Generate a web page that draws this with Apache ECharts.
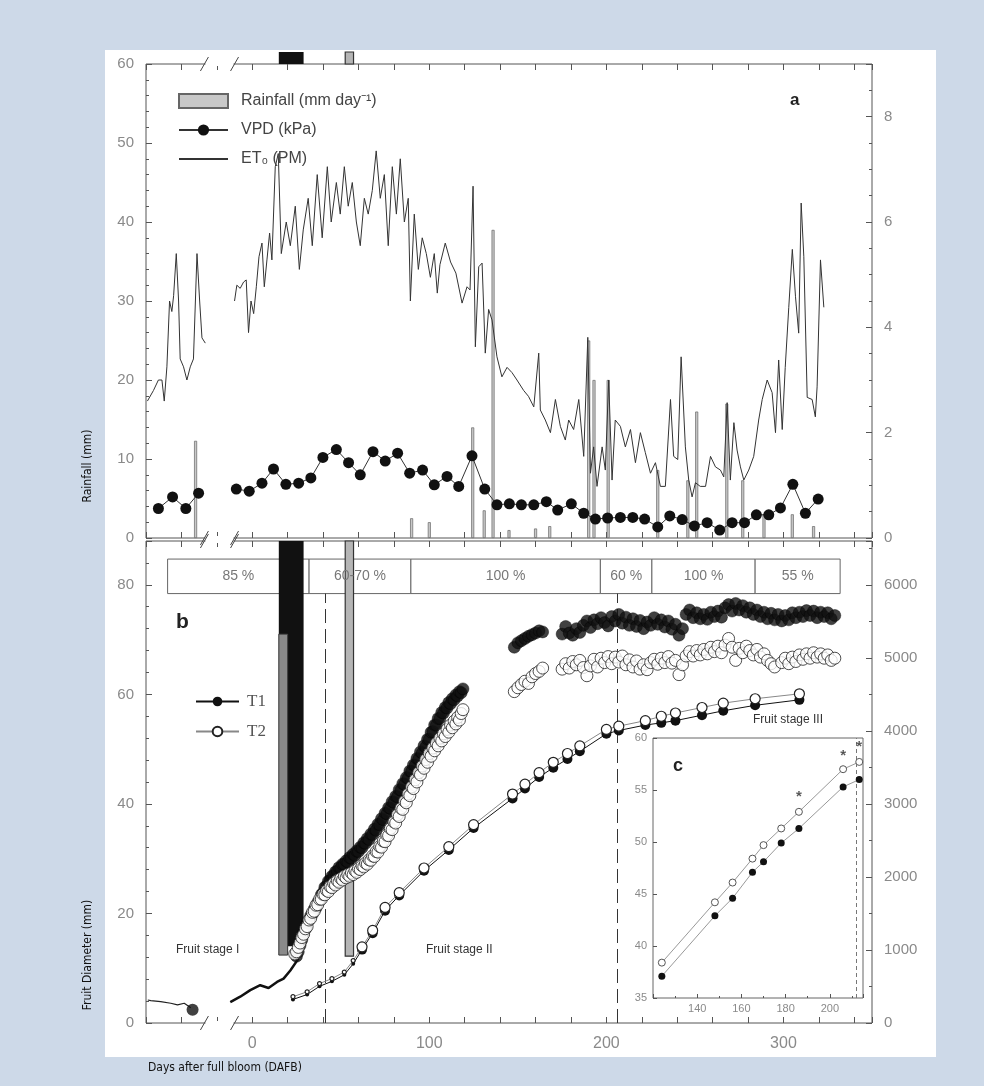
<!DOCTYPE html>
<html><head><meta charset="utf-8">
<script src="https://cdn.jsdelivr.net/npm/echarts@6/dist/echarts.min.js"></script>
<style>
html,body{margin:0;padding:0;background:#cdd9e8;}
#panel{position:absolute;left:105px;top:50px;width:831px;height:1007px;background:#fff;}
#chart{position:absolute;left:0;top:0;width:984px;height:1086px;}
</style></head><body>
<div id="panel"></div><div id="chart"></div>
<script>
// ---------- DATA ----------
// Panel a: daily rainfall (mm), days after full bloom (left segment = pre-bloom, broken axis)
const rainDays = [-32, 90, 100, 124.5, 131, 136, 145, 160, 168, 190, 193, 201, 229, 246, 251, 268, 277, 289, 305, 317];
const rainMM   = [12.3, 2.5, 2, 14, 3.5, 39, 1, 1.2, 1.5, 25, 20, 20, 8.6, 7.3, 16, 17, 7.3, 3, 3, 1.5];
// VPD (kPa)
const vpd = [[-53,0.56],[-45,0.78],[-37.5,0.56],[-30.3,0.85],[-20,null],[-9,0.93],[-1.7,0.89],[5.5,1.04],[12,1.31],[19,1.02],[26.2,1.04],[33.1,1.14],[39.9,1.53],[47.5,1.68],[54.4,1.43],[61,1.2],[68.2,1.64],[75.1,1.46],[82.1,1.61],[88.9,1.23],[96.2,1.29],[102.8,1.01],[110,1.17],[116.6,0.98],[124.1,1.56],[131.3,0.93],[138.2,0.63],[145.2,0.65],[152,0.63],[159,0.63],[166.1,0.69],[172.5,0.53],[180.2,0.65],[187.2,0.47],[193.8,0.36],[200.7,0.38],[207.9,0.39],[214.9,0.39],[221.6,0.36],[229,0.21],[235.8,0.42],[242.8,0.35],[249.7,0.23],[256.9,0.29],[264,0.15],[271,0.29],[278,0.29],[284.7,0.44],[291.7,0.44],[298.3,0.57],[305.3,1.02],[312.4,0.47],[319.6,0.74]];
// ET0 Penman-Monteith (mm/day)
const et0 = [[-59.2,2.6],[-55.8,2.8],[-53,3.0],[-51,3.0],[-49.7,2.6],[-48.2,3.25],[-46.7,4.5],[-45.4,4.3],[-44.4,4.6],[-42.9,5.4],[-41.6,4.5],[-40.7,3.4],[-38.8,3.25],[-36.9,3.0],[-35,3.25],[-33.2,3.4],[-31.2,5.4],[-29.7,4.5],[-28.4,3.8],[-26.5,3.7],[-18,null],
[-10,4.5],[-8.7,4.8],[-6.8,4.74],[-4.9,4.86],[-3.4,4.9],[-2.1,3.9],[-0.7,4.5],[0.8,4.26],[2.3,4.77],[3.8,5.34],[5.5,5.6],[6.8,4.77],[8.3,5.28],[9.8,5.79],[11.1,5.28],[13,7.05],[14.7,7.3],[16.4,5.4],[19.2,6.0],[21.5,5.55],[24.3,6.3],[26.6,5.1],[28.8,5.85],[31.6,6.45],[33.9,5.55],[36.7,6.9],[39.5,5.7],[42.4,7.05],[44.6,6.0],[47.5,6.75],[49.7,6.15],[52,7.05],[54.2,6.3],[56.5,6.75],[58.8,6.0],[61,5.55],[63.3,6.45],[65.5,6.15],[67.8,6.6],[70,7.35],[72.3,6.45],[74.6,6.9],[76.8,5.55],[79.1,7.05],[81.4,6.15],[83.6,7.2],[85.9,6.0],[88.1,6.45],[89.3,4.5],[91.5,6.15],[93.8,5.1],[96,5.7],[98.3,5.4],[100.6,4.95],[102.8,5.4],[104.5,4.65],[106,5.19],
[109,5.6],[112,5.24],[115,5.03],[118.5,4.46],[121.3,4.77],[123,4.71],[124.7,6.68],[126,3.63],[127.9,5.15],[129.8,5.22],[131.6,3.51],[133.5,4.34],[135.4,4.14],[138.2,3.44],[141,3.06],[143.9,3.24],[146.7,3.14],[149.5,3.0],[153.3,2.8],[156,2.69],[159,2.49],[161.8,3.51],[162.7,2.43],[165.5,2.24],[168.4,2.0],[171.2,2.63],[174,2.12],[176.8,1.86],[178.7,2.24],[181.5,2.06],[184.4,2.63],[187.2,1.55],[189.5,3.81],[191,1.23],[192.8,1.73],[194.7,0.98],[197.6,1.73],[199.4,1.29],[201.3,3.0],[203.2,1.1],[205,2.24],[207.9,2.12],[210.7,1.73],[213.6,2.06],[216.4,1.43],[219.2,2.0],[222,1.62],[224.9,1.23],[227.7,1.43],[230.5,0.98],[233.3,0.98],[236.2,2.63],[238,1.55],[240.3,1.49],[242.2,3.44],[244.6,1.73],[246.5,1.1],[248.4,0.78],[250.3,1.05],[253,0.98],[256,0.98],[258.8,1.55],[261.6,1.35],[264.4,1.29],[266.3,1.16],[268.2,2.57],[270,1.1],[272,2.19],[273.8,1.67],[275.7,1.35],[277.6,1.1],[280.4,1.29],[283.2,1.55],[286,2.24],[288,2.63],[290.8,3.0],[293.6,2.76],[295.5,2.0],[297.3,3.38],[299.3,2.06],[301,3.24],[303,4.38],[305,5.48],[306.8,4.58],[308.6,3.89],[310,6.36],[311.5,5.34],[313.4,2.67],[316.2,2.63],[318,2.3],[319,2.87],[320.9,5.28],[322.8,4.38]];

// Panel b: heavy rain / irrigation bands (days)
const heavyRainStart = [15, 52.5];
const heavyRainEnd   = [29, 57.2];
// Irrigation table
const tableStart  = [-47.8, 32.1, 89.6, 196.6, 225.7, 284];
const tableEnd    = [32.1, 89.6, 196.6, 225.7, 284, 332];
const tableLabels = ['85 %', '60-70 %', '100 %', '60 %', '100 %', '55 %'];
// Stage boundaries (dashed lines)
const stageLines = [41, 206];

// Fruit diameter, pre-bloom segment
const preSeason = [[-59,4.2],[-57.3,4.1],[-51.7,3.9],[-46,3.6],[-42.2,3.3],[-38.4,3.6],[-34.7,2.8]];
const preSeasonDot = [[-33.7,2.4]];
const t1Early = [[-12.4,3.8],[-6.8,4.8],[-1.1,6.0],[4.5,6.9],[9.2,6.4],[14,7.5],[17.7,8.1],[21.5,9.6],[26.2,11.8]];
// Continuous (daily) T1 diameter
const t1Daily = [[25,12.2],[26,13.0],[27,14.2],[28,15.2],[29,16.4],[30,17.2],[31,18.3],[32,18.8],[33,19.6],[34,19.9],[35,20.8],[36,21.0],[37,22.0],[38,22.3],[39,23.4],[40,23.8],[41,24.8],[42,25.0],[43,25.9],[44,26.0],[45,26.8],[46,26.9],[47,27.6],[48,27.7],[49,28.4],[50,28.3],[51,29.0],[52,29.0],[53,29.6],[54,29.4],[55,30.2],[56,30.1],[57,30.8],[58,30.6],[59,31.4],[60,31.3],[61,32.1],[62,32.0],[63,32.9],[64,32.8],[65,33.7],[66,33.5],[67,34.5],[68,34.4],[69,35.4],[70,35.2],[71,36.3],[72,36.2],[73,37.3],[74,37.1],[75,38.3],[76,38.2],[77,39.3],[78,39.2],[79,40.4],[80,40.3],[81,41.4],[82,41.3],[83,42.6],[84,42.5],[85,43.7],[86,43.6],[87,44.8],[88,44.7],[89,46.0],[90,45.9],[91,47.1],[92,47.0],[93,48.3],[94,48.2],[95,49.5],[96,49.3],[97,50.6],[98,50.4],[99,51.8],[100,51.8],[101,53.1],[102,53.2],[103,54.4],[104,54.4],[105,55.6],[106,55.6],[107,56.7],[108,56.6],[109,57.6],[110,57.5],[111,58.5],[112,58.3],[113,59.2],[114,59.0],[115,59.9],[116,59.7],[117,60.5],[118,60.3],[119,61.0],
[148,68.6],[150,69.4],[152,69.8],[154,70.2],[156,70.6],[158,70.9],[160,71.2],[162,71.6],[164,71.4],
[175,71.0],[177,72.4],[179,71.2],[181,70.8],[183,72.0],[185,71.3],[187,72.6],[189,73.4],[191,72.2],[193,73.6],[195,72.9],[197,74.0],[199,73.1],[201,72.5],[203,74.2],[205,73.4],[207,74.6],[209,73.0],[211,74.1],[213,72.6],[215,73.8],[217,72.4],[219,73.5],[221,72.0],[223,73.2],[225,72.6],[227,74.0],[229,72.8],[231,73.6],[233,72.3],[235,73.4],[237,71.9],[239,72.8],[241,70.8],[243,72.0],[245,74.6],[247,75.4],[249,74.0],[251,74.9],[253,73.8],[255,74.6],[257,73.7],[259,75.0],[261,74.2],[263,75.2],[265,74.1],[267,75.8],[269,76.4],[271,75.2],[273,76.6],[275,75.4],[277,76.2],[279,75.0],[281,75.8],[283,74.6],[285,75.4],[287,74.2],[289,75.0],[291,73.8],[293,74.8],[295,73.6],[297,74.6],[299,73.4],[301,74.4],[303,73.6],[305,74.9],[307,74.0],[309,75.0],[311,74.2],[313,75.3],[315,74.4],[317,75.2],[319,74.0],[321,75.0],[323,74.2],[325,74.9],[327,73.8],[329,74.4]];
// Continuous (daily) T2 diameter
const t2Daily = [[24,12.6],[25,13.0],[26,13.8],[27,14.6],[28,15.6],[29,16.2],[30,17.2],[31,17.6],[32,18.8],[33,19.1],[34,20.2],[35,20.4],[36,21.5],[37,21.6],[38,22.6],[39,22.6],[40,23.5],[41,23.4],[42,24.2],[43,24.0],[44,24.9],[45,24.7],[46,25.5],[47,25.2],[48,26.0],[49,25.7],[50,26.4],[51,26.1],[52,26.8],[53,26.5],[54,27.1],[55,26.8],[56,27.4],[57,27.1],[58,27.8],[59,27.5],[60,28.2],[61,28.0],[62,28.7],[63,28.5],[64,29.2],[65,29.0],[66,29.8],[67,29.7],[68,30.5],[69,30.4],[70,31.3],[71,31.2],[72,32.2],[73,32.1],[74,33.2],[75,33.1],[76,34.3],[77,34.2],[78,35.5],[79,35.3],[80,36.7],[81,36.5],[82,38.0],[83,37.7],[84,39.2],[85,39.0],[86,40.5],[87,40.2],[88,41.8],[89,41.5],[90,43.1],[91,42.8],[92,44.4],[93,44.0],[94,45.7],[95,45.3],[96,46.9],[97,46.5],[98,48.1],[99,47.6],[100,49.2],[101,48.7],[102,50.2],[103,49.7],[104,51.1],[105,50.6],[106,52.0],[107,51.5],[108,52.8],[109,52.3],[110,53.6],[111,53.1],[112,54.4],[113,53.9],[114,55.1],[115,54.6],[116,55.8],[117,55.3],[118,56.5],[119,57.2],
[148,60.5],[150,61.2],[152,61.8],[154,62.4],[156,62.0],[158,63.2],[160,63.8],[162,64.2],[164,64.8],
[175,64.6],[177,65.6],[179,64.8],[181,66.0],[183,65.4],[185,66.2],[187,64.9],[189,63.4],[191,65.2],[193,66.4],[195,65.0],[197,66.6],[199,65.8],[201,66.9],[203,65.6],[205,66.8],[207,65.9],[209,67.0],[211,65.4],[213,66.3],[215,65.0],[217,66.1],[219,64.6],[221,65.4],[223,64.5],[225,65.8],[227,66.4],[229,65.5],[231,66.6],[233,65.8],[235,66.9],[237,65.7],[239,66.2],[241,63.6],[243,65.4],[245,67.0],[247,67.8],[249,67.0],[251,68.0],[253,67.2],[255,68.2],[257,67.4],[259,68.6],[261,67.8],[263,68.8],[265,67.6],[267,69.0],[269,70.2],[271,68.6],[273,66.2],[275,68.4],[277,67.6],[279,68.8],[281,68.0],[283,67.2],[285,68.2],[287,66.8],[289,67.4],[291,66.2],[293,65.6],[295,65.0],
[299,65.8],[301,66.6],[303,65.6],[305,66.8],[307,66.0],[309,67.2],[311,66.4],[313,67.4],[315,66.6],[317,67.6],[319,66.8],[321,67.4],[323,66.6],[325,67.2],[327,66.2],[329,66.6]];
// Periodic fruit diameter measurements
const sampleDays = [23, 31, 38, 45, 52, 57, 62, 68, 75, 83, 97, 111, 125, 147, 154, 162, 170, 178, 185, 200, 207, 222, 231, 239, 254, 266, 284, 309];
const sampleT1 = [4.3, 5.2, 6.7, 7.6, 8.8, 10.8, 13.4, 16.4, 20.5, 23.3, 27.8, 31.6, 35.6, 41.0, 42.8, 44.9, 46.6, 48.2, 49.6, 52.8, 53.4, 54.4, 54.8, 55.2, 56.2, 57.0, 58.0, 59.0];
const sampleT2 = [4.8, 5.7, 7.2, 8.1, 9.3, 11.4, 13.9, 16.9, 21.1, 23.8, 28.3, 32.2, 36.2, 41.8, 43.6, 45.7, 47.6, 49.2, 50.6, 53.6, 54.2, 55.2, 56.0, 56.6, 57.6, 58.4, 59.2, 60.1];
// Inset c
const insetDays = [124, 148, 156, 165, 170, 178, 186, 206, 213.3];
const insetT1 = [37.1, 42.9, 44.6, 47.1, 48.1, 49.9, 51.3, 55.3, 56.0];
const insetT2 = [38.4, 44.2, 46.1, 48.4, 49.7, 51.3, 52.9, 57.0, 57.7];
const insetStarDays = [186, 206, 213.3];
const insetStarValues = [54.6, 58.6, 59.4];
const xTickLabels = [0, 100, 200, 300];
const insetTickLabels = [140, 160, 180, 200];

// ---------- CHART ----------
const FONT = '"Liberation Sans", Arial, sans-serif';
const NARROW = '"Liberation Sans Narrow", "DejaVu Sans Condensed", "Liberation Sans", sans-serif';
const tickLS = {color:'#555', width:1};
const chart = echarts.init(document.getElementById('chart'), null, {renderer:'canvas', width:984, height:1086});

function xAx(grid, pos, labels) {
  return {type:'value', gridIndex:grid, position:pos, min:-60, max:350, interval:20,
    axisLine:{show:false, onZero:false}, splitLine:{show:false},
    axisTick:{show:true, inside:true, length:6, lineStyle:tickLS},
    axisLabel: labels ? {show:true, color:'#8a8a8a', fontSize:16, fontFamily:FONT, margin:13,
      formatter: v => xTickLabels.indexOf(v) >= 0 ? String(v) : ''} : {show:false}};
}
function yAx(grid, pos, min, max, interval, minorSplit, fmtMax) {
  return {type:'value', gridIndex:grid, position:pos, min, max, interval,
    axisLine:{show:false, onZero:false}, splitLine:{show:false},
    axisTick:{show:true, inside:true, length:6, lineStyle:tickLS},
    minorTick:{show:true, splitNumber:minorSplit, length:3, lineStyle:tickLS},
    axisLabel:{color:'#8a8a8a', fontSize:15, fontFamily:FONT, margin:12,
      formatter: v => (v <= fmtMax && Math.abs(v/interval - Math.round(v/interval)) < 1e-6) ? String(v) : ''}};
}

const heavyAreas = [
  [{coord:[heavyRainStart[0], 71], itemStyle:{color:'#111', opacity:1}}, {coord:[heavyRainEnd[0], 88]}],
  [{coord:[20, 14], itemStyle:{color:'#111', opacity:1}}, {coord:[heavyRainEnd[0], 71]}],
  [{coord:[heavyRainStart[0], 12.4], itemStyle:{color:'#8a8a8a', opacity:1, borderColor:'#333', borderWidth:1}}, {coord:[20, 71]}],
  [{coord:[heavyRainStart[1], 12.2], itemStyle:{color:'#b5b5b5', opacity:1, borderColor:'#333', borderWidth:1.2}}, {coord:[heavyRainEnd[1], 88]}]
];
const stripAreas = [
  [{coord:[heavyRainStart[0], 0], itemStyle:{color:'#111', opacity:1}}, {coord:[heavyRainEnd[0], 1]}],
  [{coord:[heavyRainStart[1], 0], itemStyle:{color:'#b5b5b5', opacity:1, borderColor:'#333', borderWidth:1.2}}, {coord:[heavyRainEnd[1], 1]}]
];
const tableAreas = tableStart.map((s, i) => [{name: tableLabels[i], coord:[s, 78.4]}, {coord:[tableEnd[i], 84.7]}]);

const option = {
  animation:false,
  grid:[
    {left:146, top:64, width:726, height:474, show:true, borderColor:'#555', borderWidth:1},
    {left:146, top:541, width:726, height:482, show:true, borderColor:'#555', borderWidth:1},
    {left:146, top:52, width:726, height:12, show:false},
    {left:653, top:738, width:210, height:260, show:true, borderColor:'#666', borderWidth:1, backgroundColor:'#fff'}
  ],
  xAxis:[
    xAx(0,'bottom',false), xAx(0,'top',false), xAx(1,'bottom',true), xAx(1,'top',false),
    {type:'value', gridIndex:2, min:-60, max:350, show:false},
    {type:'value', gridIndex:3, min:120, max:215, interval:20, axisLine:{show:false, onZero:false}, splitLine:{show:false},
     axisTick:{inside:true, length:4, lineStyle:tickLS}, minorTick:{show:true, splitNumber:2, length:2, lineStyle:tickLS},
     axisLabel:{color:'#8a8a8a', fontSize:11, fontFamily:FONT, margin:5,
       formatter: v => insetTickLabels.indexOf(v) >= 0 ? String(v) : ''}}
  ],
  yAxis:[
    yAx(0,'left',0,60,10,5,60), yAx(0,'right',0,9,2,4,8),
    yAx(1,'left',0,88,20,5,80), yAx(1,'right',0,6600,1000,2,6000),
    {type:'value', gridIndex:2, min:0, max:1, show:false},
    {type:'value', gridIndex:3, min:35, max:60, interval:5, axisLine:{show:false, onZero:false}, splitLine:{show:false},
     axisTick:{inside:true, length:4, lineStyle:tickLS},
     axisLabel:{color:'#8a8a8a', fontSize:11, fontFamily:FONT, margin:6}}
  ],
  legend:[
    {left:173, top:88, orient:'vertical', itemWidth:49, itemHeight:14, itemGap:13,
     textStyle:{fontSize:16, color:'#444', fontFamily:FONT, padding:[0,0,0,8]},
     data:[{name:'Rainfall (mm day⁻¹)', icon:'rect'}, 'VPD (kPa)', {name:'ET₀ (PM)', itemStyle:{opacity:0}}]},
    {left:190, top:688, orient:'vertical', itemWidth:43, itemHeight:12, itemGap:13,
     textStyle:{fontSize:17, color:'#555', fontFamily:'"Liberation Serif", "DejaVu Serif", serif', padding:[0,0,0,3]},
     data:['T1','T2']}
  ],
  series:[
    {name:'Rainfall (mm day⁻¹)', type:'bar', xAxisIndex:0, yAxisIndex:0, barWidth:3, z:1,
     data: rainDays.map((d,i)=>[d, rainMM[i]]),
     itemStyle:{color:'#c8c8c8', borderColor:'#666', borderWidth:0.7}},
    {name:'ET₀ (PM)', type:'line', xAxisIndex:0, yAxisIndex:1, data:et0, symbol:'none', z:2,
     lineStyle:{color:'#333', width:1}, itemStyle:{color:'#333'}},
    {name:'VPD (kPa)', type:'line', xAxisIndex:0, yAxisIndex:1, data:vpd, symbol:'circle', symbolSize:11, z:3,
     lineStyle:{color:'#333', width:1}, itemStyle:{color:'#111'}},
    {type:'line', xAxisIndex:4, yAxisIndex:4, data:[], silent:true,
     markArea:{silent:true, data:stripAreas}},
    {type:'line', xAxisIndex:2, yAxisIndex:2, data:[], silent:true, z:1,
     markArea:{silent:true, itemStyle:{color:'#fff', borderColor:'#666', borderWidth:1, opacity:1},
       label:{show:true, position:'inside', color:'#777', fontSize:14, fontFamily:FONT}, data:tableAreas},
     markLine:{silent:true, symbol:['none','none'], label:{show:false},
       lineStyle:{color:'#333', width:1, type:[14,6]},
       data: stageLines.map(d => [{coord:[d,0]}, {coord:[d,78.4]}])}},
    {type:'line', xAxisIndex:2, yAxisIndex:2, data:[], silent:true, z:2,
     markArea:{silent:true, data:heavyAreas}},
    {type:'line', xAxisIndex:2, yAxisIndex:2, data:preSeason, symbol:'none', z:4,
     lineStyle:{color:'#222', width:1.2}},
    {type:'scatter', xAxisIndex:2, yAxisIndex:2, data:preSeasonDot, symbolSize:12, z:4, itemStyle:{color:'#111'}},
    {type:'line', xAxisIndex:2, yAxisIndex:2, data:t1Early, symbol:'none', z:4,
     lineStyle:{color:'#111', width:2.5}},
    {name:'T1 daily', type:'scatter', xAxisIndex:2, yAxisIndex:2, data:t1Daily, symbolSize:12, z:5,
     itemStyle:{color:'#111', borderColor:'#000', borderWidth:0.5}},
    {name:'T2 daily', type:'scatter', xAxisIndex:2, yAxisIndex:2, data:t2Daily, symbolSize:12, z:6,
     itemStyle:{color:'#fff', borderColor:'#222', borderWidth:1}},
    {name:'T1', type:'line', xAxisIndex:2, yAxisIndex:2, data: sampleDays.map((d,i)=>[d, sampleT1[i]]),
     symbol:'circle', symbolSize:(v)=> v[0] < 60 ? 4 : 10, z:7,
     lineStyle:{color:'#111', width:1}, itemStyle:{color:'#111'}},
    {name:'T2', type:'line', xAxisIndex:2, yAxisIndex:2, data: sampleDays.map((d,i)=>[d, sampleT2[i]]),
     symbol:'circle', symbolSize:(v)=> v[0] < 60 ? 4 : 10, z:8,
     lineStyle:{color:'#888', width:1}, itemStyle:{color:'#fff', borderColor:'#222', borderWidth:1.2}},
    {type:'line', xAxisIndex:5, yAxisIndex:5, data: insetDays.map((d,i)=>[d, insetT1[i]]), symbol:'circle', symbolSize:7, z:10,
     lineStyle:{color:'#999', width:1}, itemStyle:{color:'#111'},
     markLine:{silent:true, symbol:['none','none'], label:{show:false}, lineStyle:{color:'#777', width:1, type:[4,3]},
       data:[[{coord:[212,35]},{coord:[212,60]}]]}},
    {type:'line', xAxisIndex:5, yAxisIndex:5, data: insetDays.map((d,i)=>[d, insetT2[i]]), symbol:'circle', symbolSize:7, z:11,
     lineStyle:{color:'#999', width:1}, itemStyle:{color:'#fff', borderColor:'#555', borderWidth:1}},
    {type:'scatter', xAxisIndex:5, yAxisIndex:5, data: insetStarDays.map((d,i)=>[d, insetStarValues[i]]), symbolSize:1, z:12,
     itemStyle:{color:'#333'}, label:{show:true, formatter:'*', position:'inside', color:'#333', fontSize:15, fontWeight:'bold', offset:[0,3]}}
  ]
};
chart.setOption(option);

const texts = [
  {type:'text', x:790, y:92, style:{text:'a', font:'bold 17px ' + FONT, fill:'#222'}},
  {type:'text', x:176, y:612, style:{text:'b', font:'bold 21px ' + FONT, fill:'#222'}},
  {type:'text', x:673, y:757, style:{text:'c', font:'bold 18px ' + FONT, fill:'#222'}},
  {type:'text', x:176, y:944, style:{text:'Fruit stage I', font:'12px ' + FONT, fill:'#333'}},
  {type:'text', x:426, y:944, style:{text:'Fruit stage II', font:'12px ' + FONT, fill:'#333'}},
  {type:'text', x:753, y:714, style:{text:'Fruit stage III', font:'12px ' + FONT, fill:'#333'}},
  {type:'text', x:88, y:466, rotation:Math.PI/2, style:{text:'Rainfall (mm)', font:'12px ' + NARROW, fill:'#111', textAlign:'center', textVerticalAlign:'middle'}},
  {type:'text', x:88, y:955, rotation:Math.PI/2, style:{text:'Fruit Diameter (mm)', font:'12px ' + NARROW, fill:'#111', textAlign:'center', textVerticalAlign:'middle'}},
  {type:'text', x:148, y:1062, style:{text:'Days after full bloom (DAFB)', font:'12px ' + NARROW, fill:'#111'}}
];
const br = [];
const bx = [-27, -10].map(d => chart.convertToPixel({gridIndex:1}, [d, 0])[0]);
const by = [chart.convertToPixel({gridIndex:0}, [0, 60])[1], chart.convertToPixel({gridIndex:0}, [0, 0])[1],
            chart.convertToPixel({gridIndex:1}, [0, 88])[1], chart.convertToPixel({gridIndex:1}, [0, 0])[1]];
by.forEach(y => {
  br.push({type:'rect', silent:true, z:200, shape:{x:bx[0]+1, y:y-2, width:bx[1]-bx[0]-2, height:4}, style:{fill:'#fff'}});
  bx.forEach(x => br.push({type:'line', silent:true, z:201, shape:{x1:x-4, y1:y+7, x2:x+4, y2:y-7}, style:{stroke:'#444', lineWidth:1}}));
});
chart.setOption({graphic:{elements: texts.concat(br)}});
</script></body></html>
